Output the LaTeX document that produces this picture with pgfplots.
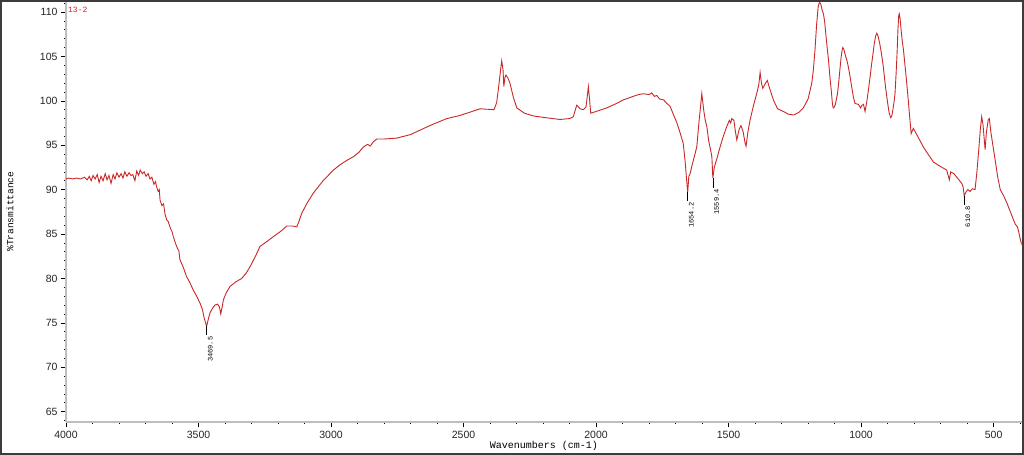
\documentclass[border=0pt]{standalone}
\usepackage{pgfplots}
\pgfplotsset{compat=1.18}
\usepackage{pgfplotstable}
\usepackage{fontspec}
\setmainfont{Liberation Sans}
\setmonofont{Liberation Mono}
\definecolor{spec}{RGB}{200,40,40}
\definecolor{axgray}{RGB}{190,190,190}
\definecolor{frm}{RGB}{60,60,60}

\pgfplotstableread{
wn T
4000 91.2
3990 91.3
3975 91.2
3960 91.3
3945 91.2
3930 91.4
3920 91.1
3912 91.5
3905 91.0
3898 91.6
3890 91.2
3882 91.7
3875 90.8
3868 91.5
3860 91.0
3852 91.8
3845 91.1
3838 91.6
3830 90.7
3822 91.7
3815 91.2
3808 91.9
3800 91.4
3792 91.8
3785 91.3
3778 92.0
3770 91.5
3762 91.9
3755 91.6
3748 91.7
3740 91.0
3733 92.1
3726 91.6
3720 92.2
3712 91.8
3705 92.0
3698 91.5
3690 91.8
3683 91.2
3676 91.4
3668 90.6
3662 90.9
3658 90.3
3652 89.8
3648 90.0
3645 88.8
3638 88.2
3632 88.4
3626 87.2
3620 86.6
3614 86.4
3610 86.0
3604 85.5
3600 85.3
3595 84.7
3585 83.8
3578 83.3
3574 83.1
3570 82.1
3558 81.3
3545 80.2
3532 79.5
3520 78.7
3507 78.0
3494 77.2
3485 76.5
3479 75.6
3469.5 74.6
3463 75.4
3457 76.1
3448 76.6
3438 77.0
3428 77.1
3421 76.8
3416 76.0
3410 76.9
3406 77.6
3395 78.4
3381 79.1
3360 79.6
3337 80.0
3320 80.6
3306 81.3
3285 82.5
3268 83.6
3240 84.2
3218 84.7
3190 85.3
3167 85.9
3145 85.9
3129 85.8
3120 86.5
3111 87.3
3090 88.5
3067 89.6
3030 91.0
2991 92.2
2966 92.8
2940 93.3
2916 93.7
2895 94.2
2878 94.8
2862 95.1
2852 94.9
2840 95.4
2827 95.7
2800 95.7
2752 95.8
2700 96.2
2664 96.7
2620 97.3
2563 98.0
2520 98.3
2488 98.6
2438 99.1
2385 99.0
2375 99.8
2369 101.2
2362 103.0
2356 104.5
2351 103.5
2348 101.6
2344 102.6
2340 102.9
2333 102.6
2325 102.0
2312 100.4
2299 99.2
2270 98.6
2237 98.3
2190 98.1
2136 97.9
2100 98.0
2086 98.2
2078 99.0
2073 99.5
2060 99.1
2048 99.0
2038 99.3
2032 100.8
2029 101.6
2025 100.3
2020 98.6
2000 98.8
1960 99.2
1930 99.6
1897 100.1
1860 100.5
1840 100.7
1822 100.8
1800 100.7
1790 100.9
1780 100.5
1771 100.6
1760 100.2
1745 100.1
1733 99.7
1721 99.4
1710 98.6
1696 97.6
1685 96.6
1671 95.2
1664 93.2
1658 91.0
1654.2 89.7
1650 91.5
1645 91.8
1639 92.6
1632 93.4
1625 94.2
1620 94.8
1612 97.5
1601 100.8
1594 99.0
1588 97.8
1582 97.1
1575 95.5
1568 94.5
1563 93.7
1559.4 91.3
1554 92.5
1545 93.4
1532 94.8
1520 96.0
1507 97.1
1497 97.8
1492 97.5
1488 98.0
1480 97.8
1474 96.5
1469 95.6
1460 96.8
1453 97.2
1445 96.5
1438 95.3
1434 94.9
1427 96.5
1419 97.8
1405 99.6
1394 100.8
1386 101.8
1381 103.2
1376 102.0
1371 101.4
1362 101.9
1354 102.3
1345 101.4
1331 100.1
1315 99.1
1293 98.8
1275 98.5
1255 98.4
1235 98.7
1218 99.2
1200 100.2
1186 102.0
1180 103.5
1174 105.7
1168 108.5
1162 110.6
1157 111.1
1152 110.9
1147 110.2
1142 109.8
1137 108.8
1133 107.5
1128 106.0
1123 104.6
1117 102.5
1112 101.0
1108 99.6
1105 99.2
1101 99.3
1097 99.6
1089 100.8
1084 102.2
1080 103.5
1075 105.0
1071 105.8
1069 106.0
1065 105.8
1061 105.3
1058 105.0
1053 104.5
1048 103.8
1042 102.8
1035 101.5
1029 100.4
1023 99.7
1010 99.6
1002 99.2
997 99.5
991 99.6
985 98.8
978 100.0
972 101.3
966 102.7
960 104.2
955 105.3
950 106.5
945 107.3
941 107.6
937 107.4
933 106.9
930 106.5
923 105.3
916 103.8
908 101.6
900 99.8
894 98.6
888 98.1
884 98.3
880 99.0
876 99.8
872 100.8
868 103.0
864 105.5
861 108.0
858 109.6
856 109.8
853 109.3
849 108.0
845 106.8
840 105.7
835 104.2
830 102.7
826 101.4
822 100.1
817 98.3
811 96.3
803 96.9
790 96.2
765 94.8
745 93.9
727 93.1
700 92.6
677 92.2
667 91.1
662 92.0
650 91.8
639 91.4
620 90.7
615 90.3
610.8 89.3
603 89.8
597 90.0
589 89.8
580 90.1
570 90.0
563 92.0
556 94.5
550 96.8
545 98.2
540 97.3
532 94.5
527 96.5
520 97.9
516 98.0
510 96.4
494 93.3
485 91.5
475 90.0
462 89.3
450 88.5
438 87.6
425 86.6
418 86.1
410 85.8
405 85.2
400 84.5
394 83.8
}\spectrum

\begin{document}
\begin{tikzpicture}
\useasboundingbox (0,0) rectangle (1024bp,455bp);
\fill[white] (0,0) rectangle (1024bp,455bp);
\begin{axis}[
  at={(66bp,32.7bp)}, anchor=south west,
  scale only axis, width=955.7bp, height=421.3bp,
  x dir=reverse, xmin=394, xmax=4000, ymin=63.8, ymax=111.24,
  axis x line*=bottom, axis y line*=left,
  axis line style={axgray, line width=2bp, -},
  xtick={500,1000,...,4000}, minor xtick={400,500,...,4000},
  ytick={65,70,...,110}, minor ytick={64,...,111},
  tick align=outside, major tick length=5bp, minor tick length=2bp,
  tick style={black, line width=0.6bp},
  /pgf/number format/assume math mode=true,
  /pgf/number format/1000 sep={},
  ticklabel style={font=\fontsize{10.5bp}{12bp}\selectfont, text=black!85},
  xlabel={Wavenumbers (cm-1)}, ylabel={\%Transmittance},
  xlabel style={font=\ttfamily\fontsize{10bp}{12bp}\selectfont, at={(axis description cs:0.5,0)}, anchor=center, yshift=-24bp},
  ylabel style={font=\ttfamily\fontsize{9.5bp}{12bp}\selectfont, at={(axis description cs:0,0.5)}, anchor=center, yshift=56bp},
]
\addplot[spec, line width=0.9bp] table[x=wn, y=T] {\spectrum};
\coordinate (p1) at (axis cs:3469.5,74.6);
\coordinate (p2) at (axis cs:1654.2,89.7);
\coordinate (p3) at (axis cs:1559.4,91.3);
\coordinate (p4) at (axis cs:610.8,89.3);
\end{axis}
\tikzset{pk/.style={rotate=90, anchor=north east, inner sep=1bp, font=\ttfamily\fontsize{7bp}{8bp}\selectfont}}
\draw[black, line width=0.5bp] (p1) -- ([yshift=-9bp]p1) node[pk] {3469.5};
\draw[black, line width=0.5bp] (p2) -- ([yshift=-9bp]p2) node[pk] {1654.2};
\draw[black, line width=0.5bp] (p3) -- ([yshift=-10bp]p3) node[pk] {1559.4};
\draw[black, line width=0.5bp] (p4) -- ([yshift=-9bp]p4) node[pk] {610.8};
\node[anchor=west, text=spec, inner sep=0pt, font=\ttfamily\fontsize{8bp}{9bp}\selectfont] at (68bp,445.5bp) {13-2};
\draw[frm, line width=2bp] (1bp,1bp) rectangle (1023bp,454bp);
\end{tikzpicture}
\end{document}
